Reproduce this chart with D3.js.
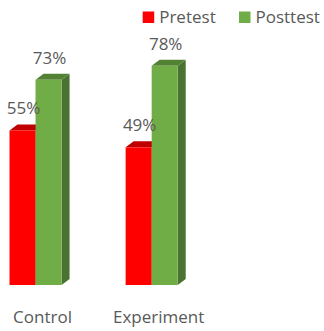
<!DOCTYPE html>
<html lang="en">
<head>
<meta charset="UTF-8">
<title>Pretest vs Posttest</title>
<style>
  body { margin: 0; background: #fff; }
  svg text { font-family: "Open Sans", "Noto Sans", sans-serif; fill: #595959; }
</style>
</head>
<body>
<svg id="chart" width="324" height="331"></svg>
<script src="https://cdn.jsdelivr.net/npm/d3@7/dist/d3.min.js"></script>
<script>
// chart data
const categories = ['Control', 'Experiment'];
const seriesNames = ['Pretest', 'Posttest'];
const pretest = [0.55, 0.49];
const posttest = [0.73, 0.78];

const colors = {
    Pretest: { front: '#ff0000', top: '#c00000', side: '#a00000' },
    Posttest: { front: '#70ad47', top: '#548235', side: '#4a7230' }
};

const svg = d3.select('#chart');
const depthX = 8, depthY = 6;

const x = d3.scaleBand().domain(categories).range([9.5, 177.7]).paddingInner(0.5517).paddingOuter(0);
const xInner = d3.scaleBand().domain(seriesNames).range([0, x.bandwidth()]);
const y = d3.scaleLinear().domain([0, 1]).range([285, 4]);

const rows = [];
categories.forEach((c, i) => {
    rows.push({ cat: c, series: 'Pretest', value: pretest[i] });
    rows.push({ cat: c, series: 'Posttest', value: posttest[i] });
});

const bars = svg.append('g').selectAll('g')
    .data(rows)
    .enter()
    .append('g');

bars.each(function (d) {
    let g = d3.select(this);
    let x0 = x(d.cat) + xInner(d.series);
    let w = xInner.bandwidth();
    let yTop = y(d.value);
    let yBase = y(0);
    let col = colors[d.series];

    // side face
    g.append('path')
        .attr('d', `M${x0 + w},${yTop} L${x0 + w + depthX},${yTop - depthY} L${x0 + w + depthX},${yBase - depthY} L${x0 + w},${yBase} Z`)
        .attr('fill', col.side);
    // top face
    g.append('path')
        .attr('d', `M${x0},${yTop} L${x0 + depthX},${yTop - depthY} L${x0 + w + depthX},${yTop - depthY} L${x0 + w},${yTop} Z`)
        .attr('fill', col.top);
    // front face
    g.append('rect')
        .attr('x', x0)
        .attr('y', yTop)
        .attr('width', w)
        .attr('height', yBase - yTop)
        .attr('fill', col.front);
});

// value labels
svg.append('g').selectAll('text')
    .data(rows)
    .enter()
    .append('text')
    .attr('x', d => x(d.cat) + xInner(d.series) + xInner.bandwidth() / 2 + 1)
    .attr('y', d => y(d.value) - 16)
    .attr('text-anchor', 'middle')
    .style('font-size', '17px')
    .text(d => Math.round(d.value * 100) + '%');

// category axis labels
svg.append('g').selectAll('text')
    .data(categories)
    .enter()
    .append('text')
    .attr('x', d => x(d) + x.bandwidth() / 2 + 7)
    .attr('y', 323)
    .attr('text-anchor', 'middle')
    .style('font-size', '17px')
    .text(d => d);

// legend
const legendX = [142.7, 239];
const legend = svg.append('g').selectAll('g')
    .data(seriesNames)
    .enter()
    .append('g')
    .attr('transform', (d, i) => `translate(${legendX[i]},11.5)`);

legend.append('rect')
    .attr('width', 11.5)
    .attr('height', 11.5)
    .attr('fill', d => colors[d].front);

legend.append('text')
    .attr('x', 16.5)
    .attr('y', 11.3)
    .style('font-size', '17px')
    .text(d => d);
</script>
</body>
</html>
